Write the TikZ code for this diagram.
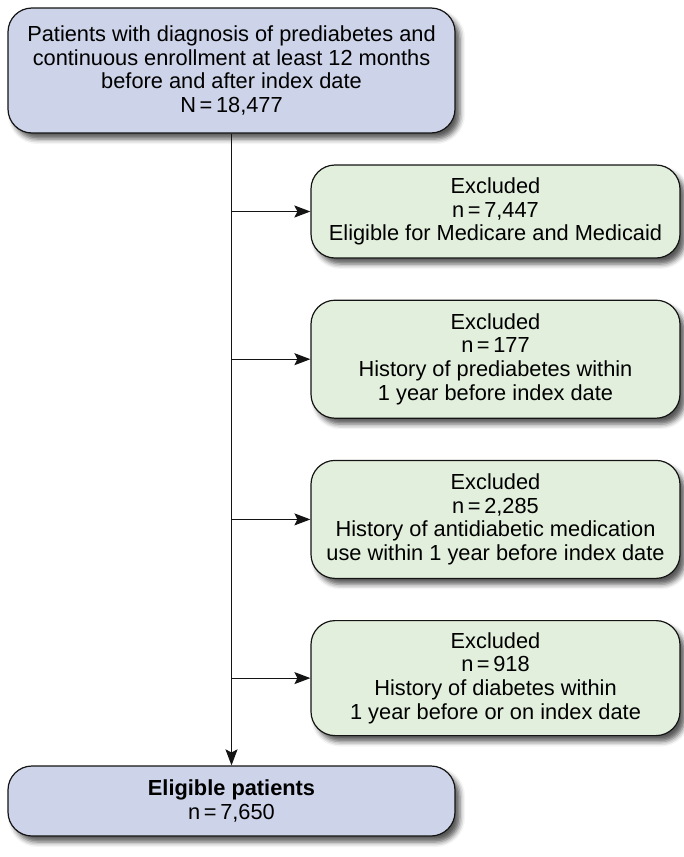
\documentclass[tikz,border=0pt]{standalone}
\usepackage{fontspec}
\setmainfont{Liberation Sans}
\usetikzlibrary{arrows.meta,positioning,shadows.blur}
\definecolor{boxblue}{RGB}{205,211,232}
\definecolor{boxgreen}{RGB}{226,239,220}
\definecolor{edgegray}{RGB}{20,20,20}

\begin{document}
\begin{tikzpicture}[
    x=1pt, y=-1pt,
    every node/.style={font=\fontsize{21.8}{23.8}\selectfont},
    flowbox/.style={rectangle, rounded corners=24pt, draw=edgegray, line width=1.2pt, align=center, inner sep=0pt,
        blur shadow={shadow xshift=5pt, shadow yshift=-6pt, shadow blur radius=5pt, shadow opacity=65}},
    mainbox/.style={flowbox, fill=boxblue, minimum width=447pt},
    exclbox/.style={flowbox, fill=boxgreen, minimum width=369pt, minimum height=118pt},
    arrow/.style={-{Stealth[length=16pt, width=12pt, inset=3pt]}, line width=1.2pt, draw=edgegray}
]
\useasboundingbox (0,0) rectangle (683,857);

\node[mainbox, minimum height=125pt] (start) at (231.5,70.5) {Patients with diagnosis of prediabetes and\\ continuous enrollment at least 12 months\\ before and after index date\\ N\,=\,18,477};

\node[exclbox, minimum height=93pt] (medicare) at (495.5,211.5) {Excluded\\ n\,=\,7,447\\ Eligible for Medicare and Medicaid};
\node[exclbox, below=41pt of medicare] (priorpre) {Excluded\\ n\,=\,177\\ History of prediabetes within\\ 1 year before index date};
\node[exclbox, below=41pt of priorpre] (antidiab) {Excluded\\ n\,=\,2,285\\ History of antidiabetic medication\\ use within 1 year before index date};
\node[exclbox, minimum height=115pt, below=41pt of antidiab] (priordiab) {Excluded\\ n\,=\,918\\ History of diabetes within\\ 1 year before or on index date};

\node[mainbox, minimum height=70pt] (eligible) at (231.5,801) {\textbf{Eligible patients}\\ n\,=\,7,650};

\draw[arrow] (start.south) -- (eligible.north);
\foreach \ex in {medicare,priorpre,antidiab,priordiab}
    \draw[arrow] (start.south |- \ex.west) -- (\ex.west);

\end{tikzpicture}
\end{document}
